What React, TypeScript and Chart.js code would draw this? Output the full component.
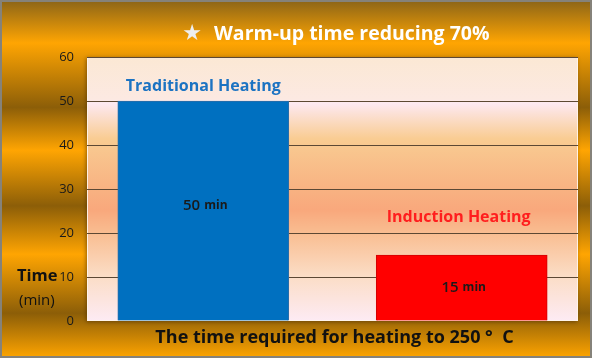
import React, { useEffect, useRef } from "react";
import { Chart, registerables } from "chart.js";

Chart.register(...registerables);

const categories = ["Traditional Heating", "Induction Heating"];
const values = [50, 15];
const valueUnit = "min";
const barColors = ["#0070C0", "#FF0000"];
const barBorders = ["#2D6DA6", "#D20000"];
const labelColors = ["#1C73C2", "#FF1E1E"];
const yTicks = [0, 10, 20, 30, 40, 50, 60];
const titleStar = "★";
const titleText = "Warm-up time reducing 70%";
const xTitle = "The time required for heating to 250 °  C";
const yTitle = ["Time", "(min)"];

const FONT = "'Open Sans', Lato, sans-serif";

export default function App() {
  const ref = useRef<HTMLCanvasElement | null>(null);

  useEffect(() => {
    const canvas = ref.current;
    if (!canvas) return;

    const bgPlugin = {
      id: "bgPlugin",
      beforeDraw(chart: any) {
        const { ctx, width, height, chartArea } = chart;
        ctx.save();
        const g = ctx.createLinearGradient(0, 0, 0, height);
        g.addColorStop(0, "#8A6418");
        g.addColorStop(0.12, "#FFA502");
        g.addColorStop(0.3, "#8C5E08");
        g.addColorStop(0.42, "#FFA502");
        g.addColorStop(0.575, "#8C5E08");
        g.addColorStop(0.71, "#FFA502");
        g.addColorStop(0.875, "#8C5E08");
        g.addColorStop(1, "#FFA500");
        ctx.fillStyle = g;
        ctx.fillRect(0, 0, width, height);
        ctx.strokeStyle = "#85827a";
        ctx.lineWidth = 2;
        ctx.strokeRect(1, 1, width - 2, height - 2);

        const { left, top, right, bottom } = chartArea;
        const pg = ctx.createLinearGradient(0, top, 0, bottom);
        pg.addColorStop(0, "#FBE8D4");
        pg.addColorStop(0.16, "#FCE9E2");
        pg.addColorStop(0.175, "#FDE9F2");
        pg.addColorStop(0.31, "#F9CC92");
        pg.addColorStop(0.5, "#F8B282");
        pg.addColorStop(0.58, "#F9A87C");
        pg.addColorStop(0.67, "#F9BE92");
        pg.addColorStop(0.83, "#FBDDC6");
        pg.addColorStop(1, "#FDEBF4");
        ctx.shadowColor = "rgba(70,40,0,0.55)";
        ctx.shadowBlur = 4;
        ctx.shadowOffsetX = -1;
        ctx.shadowOffsetY = 1;
        ctx.fillStyle = pg;
        ctx.fillRect(left, top, right - left, bottom - top);
        ctx.shadowColor = "transparent";
        ctx.strokeStyle = "rgba(255,245,235,0.9)";
        ctx.lineWidth = 1;
        ctx.strokeRect(left + 0.5, top + 0.5, right - left - 1, bottom - top - 1);
        ctx.restore();
      },
      afterDatasetsDraw(chart: any) {
        const { ctx, chartArea } = chart;
        const meta = chart.getDatasetMeta(0);
        ctx.save();
        ctx.textBaseline = "middle";
        const aboveOffsets = [15, 38];
        const labelShift = [0, -3];
        meta.data.forEach((bar: any, i: number) => {
          ctx.font = `bold 16px ${FONT}`;
          ctx.fillStyle = labelColors[i];
          ctx.textAlign = "center";
          ctx.fillText(categories[i], bar.x + labelShift[i], bar.y - aboveOffsets[i]);
          const num = String(values[i]);
          ctx.font = `600 15px ${FONT}`;
          const w1 = ctx.measureText(num).width;
          ctx.font = `bold 12px ${FONT}`;
          const w2 = ctx.measureText(valueUnit).width;
          const gap = 4;
          const total = w1 + gap + w2;
          const midY = (bar.y + bar.base) / 2 - (i === 0 ? 5 : 0);
          const sx = bar.x - total / 2 + 2;
          ctx.textAlign = "left";
          ctx.fillStyle = "#1a1a1a";
          ctx.font = `600 15px ${FONT}`;
          ctx.fillText(num, sx, midY);
          ctx.font = `bold 12px ${FONT}`;
          ctx.fillText(valueUnit, sx + w1 + gap, midY);
        });

        // title
        ctx.textAlign = "center";
        ctx.fillStyle = "#EEEEEE";
        ctx.font = `22px 'DejaVu Sans', sans-serif`;
        ctx.fillText(titleStar, 192, 34);
        ctx.textAlign = "left";
        ctx.fillStyle = "#FFFFFF";
        ctx.font = `bold 19.5px ${FONT}`;
        ctx.fillText(titleText, 214, 34);

        // x title
        ctx.textAlign = "center";
        ctx.fillStyle = "#111111";
        ctx.font = `bold 18px ${FONT}`;
        ctx.fillText(xTitle, (chartArea.left + chartArea.right) / 2 + 2, 338);

        // y title
        ctx.textAlign = "left";
        ctx.font = `bold 16.5px ${FONT}`;
        ctx.fillText(yTitle[0], 17, 276);
        ctx.font = `15px ${FONT}`;
        ctx.fillText(yTitle[1], 19, 301);
        ctx.restore();
      },
    };

    const chart = new Chart(canvas, {
      type: "bar",
      data: {
        labels: categories,
        datasets: [
          {
            data: values.map((v, i) => ({ x: i, y: v })),
            backgroundColor: barColors,
            borderColor: barBorders,
            borderWidth: 1,
            barThickness: 171,
          },
        ],
      },
      options: {
        responsive: false,
        animation: false,
        events: [],
        layout: { padding: { top: 57, right: 14, bottom: 37, left: 0 } },
        plugins: {
          legend: { display: false },
          tooltip: { enabled: false },
          title: { display: false },
        },
        scales: {
          x: {
            type: "linear",
            min: -0.45,
            max: 1.45,
            offset: false,
            display: false,
          },
          y: {
            min: 0,
            max: 60,
            afterFit(scale: any) {
              scale.width = 87;
            },
            afterBuildTicks(scale: any) {
              scale.ticks = yTicks.map((v) => ({ value: v }));
            },
            border: { display: false },
            grid: {
              drawTicks: false,
              color: (c: any) =>
                c.tick && c.tick.value === 0 ? "rgba(0,0,0,0)" : "#5C4834",
              lineWidth: 1,
            },
            ticks: {
              padding: 13,
              color: "#1a1a1a",
              font: { family: FONT, size: 13 },
            },
          },
        },
      },
      plugins: [bgPlugin],
    });

    return () => chart.destroy();
  }, []);

  return (
    <div style={{ position: "absolute", left: 0, top: 0, width: 592, height: 358 }}>
      <canvas ref={ref} width={592} height={358} style={{ display: "block" }} />
    </div>
  );
}
